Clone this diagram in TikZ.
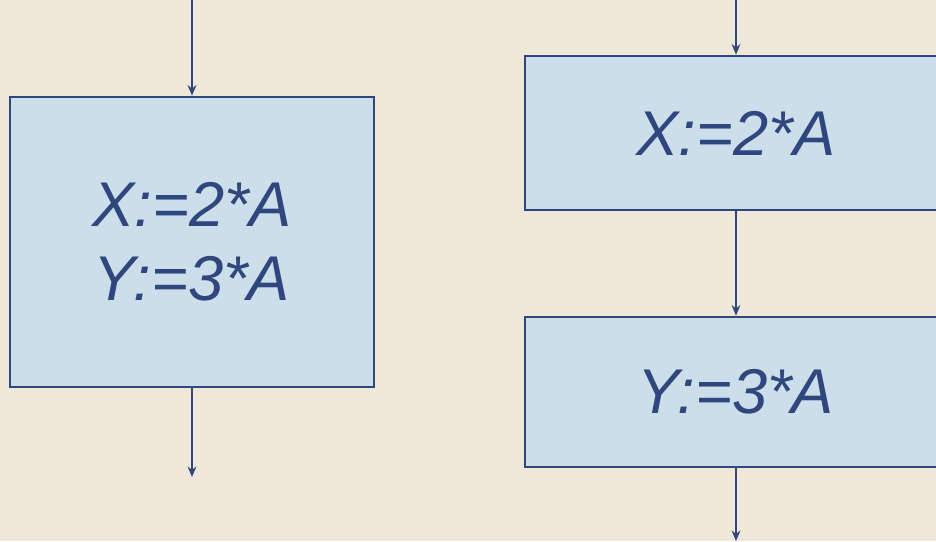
\documentclass[tikz,border=0pt]{standalone}
\usepackage{fontspec}
\setmainfont{Liberation Sans}
\usetikzlibrary{positioning, arrows.meta}
\definecolor{paper}{HTML}{EFE7D8}
\definecolor{boxfill}{HTML}{CCDEE9}
\definecolor{ink}{HTML}{2F467E}
\tikzset{
  stmt/.style={draw=ink, line width=1.6pt, fill=boxfill, text=ink, align=center,
    font=\fontsize{36}{42}\selectfont\itshape, inner sep=0pt},
  flow/.style={->, >={Stealth[length=6pt, width=5pt]}, draw=ink, line width=0.9pt}
}

\begin{document}
\begin{tikzpicture}[x=0.02cm, y=-0.02cm]
    \fill[paper] (0,0) rectangle (936,541);
    \clip (0,0) rectangle (936,541);
    % one box holding both assignments
    \node[stmt, minimum width=7.28cm, minimum height=5.8cm] (both) at (192,242) {X:=2*A\\Y:=3*A};
    \coordinate (bothin)  at (192,0);
    \coordinate (bothout) at (192,477);
    \draw[flow] (bothin) -- (both.north);
    \draw[flow] (both.south) -- (bothout);
    % the same, split into two steps
    \node[stmt, minimum width=8.44cm, minimum height=3.08cm] (stepx) at (736,133) {X:=2*A};
    \node[stmt, minimum width=8.44cm, minimum height=3.0cm]  (stepy) at (736,392) {Y:=3*A};
    \coordinate (stepin)  at (736,0);
    \coordinate (stepout) at (736,541);
    \draw[flow] (stepin) -- (stepx.north);
    \draw[flow] (stepx.south) -- (stepy.north);
    \draw[flow] (stepy.south) -- (stepout);
\end{tikzpicture}
\end{document}
